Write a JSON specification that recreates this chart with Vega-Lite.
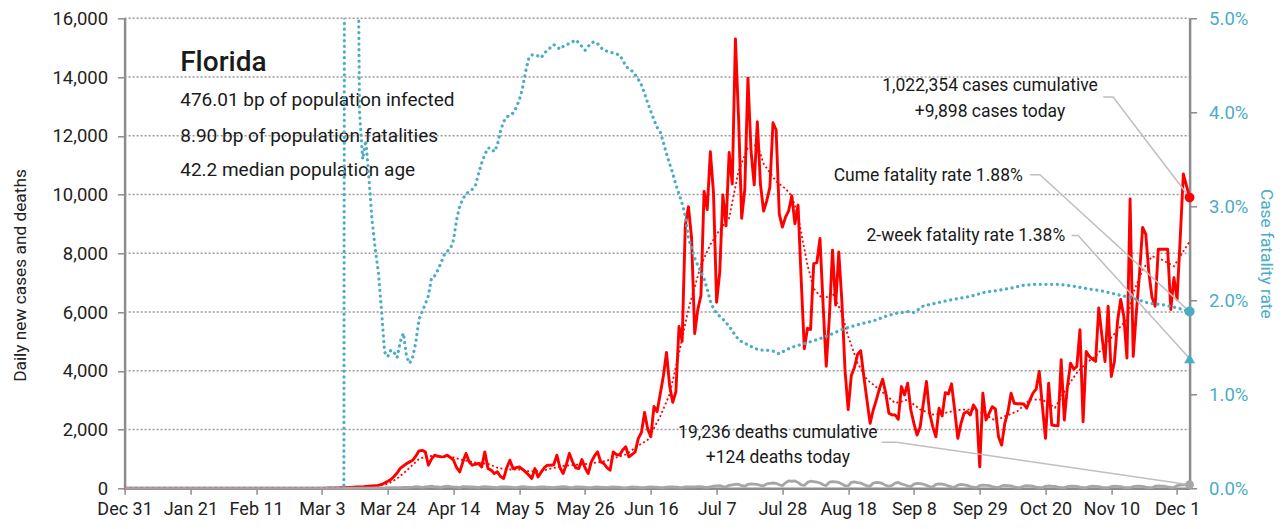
{
"$schema":"https://vega.github.io/schema/vega-lite/v6.json",
"width":1065,"height":470,
"autosize":{"type":"none"},
"padding":{"left":124.6,"top":18.3,"right":92.4,"bottom":40.7},
"background":"#ffffff",
"config":{"font":"Roboto","view":{"stroke":null},
 "axis":{"labelFont":"Roboto","titleFont":"Roboto","domainColor":"#8c8c8c","domainWidth":2.5,"tickColor":"#8c8c8c","tickWidth":1.5,"titleFontWeight":"normal"},
 "axisLeft":{"tickSize":7,"labelFontSize":18.5,"labelColor":"#222222","labelPadding":10,"titleFontSize":17.3,"titleColor":"#222222"},
 "axisRight":{"tickSize":7,"labelFontSize":18.5,"labelColor":"#4bacc6","labelPadding":12,"titleFontSize":17.3,"titleColor":"#4bacc6"},
 "axisBottom":{"tickSize":6,"labelFontSize":18,"labelColor":"#222222","labelPadding":6},
 "text":{"font":"Roboto"}},
"datasets":{
"grid":[
{"g":2000,"t":"2019-12-31"},{"g":2000,"t":"2020-12-05"},{"g":4000,"t":"2019-12-31"},{"g":4000,"t":"2020-12-05"},{"g":6000,"t":"2019-12-31"},{"g":6000,"t":"2020-12-05"},{"g":8000,"t":"2019-12-31"},{"g":8000,"t":"2020-12-05"},
{"g":10000,"t":"2019-12-31"},{"g":10000,"t":"2020-12-05"},{"g":12000,"t":"2019-12-31"},{"g":12000,"t":"2020-12-05"},{"g":14000,"t":"2019-12-31"},{"g":14000,"t":"2020-12-05"},{"g":16000,"t":"2019-12-31"},{"g":16000,"t":"2020-12-05"}
],
"daily":[
{"t":"2019-12-31","c":0,"k":0},{"t":"2020-01-31","c":0,"k":0},{"t":"2020-02-29","c":0,"k":0},
{"t":"2020-03-01","c":2,"k":0},{"t":"2020-03-02","c":3,"k":0},{"t":"2020-03-03","c":5,"k":0},{"t":"2020-03-04","c":5,"k":0},{"t":"2020-03-05","c":8,"k":0},{"t":"2020-03-06","c":10,"k":0},{"t":"2020-03-07","c":12,"k":1},{"t":"2020-03-08","c":15,"k":0},{"t":"2020-03-09","c":18,"k":1},{"t":"2020-03-10","c":20,"k":2},
{"t":"2020-03-11","c":25,"k":1},{"t":"2020-03-12","c":30,"k":2},{"t":"2020-03-13","c":40,"k":3},{"t":"2020-03-14","c":50,"k":2},{"t":"2020-03-15","c":45,"k":3},{"t":"2020-03-16","c":50,"k":5},{"t":"2020-03-17","c":60,"k":5},{"t":"2020-03-18","c":70,"k":8},{"t":"2020-03-19","c":80,"k":7},{"t":"2020-03-20","c":90,"k":10},
{"t":"2020-03-21","c":100,"k":10},{"t":"2020-03-22","c":130,"k":12},{"t":"2020-03-23","c":180,"k":15},{"t":"2020-03-24","c":240,"k":18},{"t":"2020-03-25","c":300,"k":20},{"t":"2020-03-26","c":400,"k":25},{"t":"2020-03-27","c":520,"k":20},{"t":"2020-03-28","c":680,"k":25},{"t":"2020-03-29","c":760,"k":30},{"t":"2020-03-30","c":840,"k":28},{"t":"2020-03-31","c":900,"k":35},
{"t":"2020-04-01","c":957,"k":40},{"t":"2020-04-02","c":1100,"k":55},{"t":"2020-04-03","c":1275,"k":45},{"t":"2020-04-04","c":1290,"k":35},{"t":"2020-04-05","c":1240,"k":50},{"t":"2020-04-06","c":786,"k":60},{"t":"2020-04-07","c":1000,"k":70},{"t":"2020-04-08","c":1128,"k":50},{"t":"2020-04-09","c":1090,"k":45},{"t":"2020-04-10","c":1070,"k":30},
{"t":"2020-04-11","c":1080,"k":60},{"t":"2020-04-12","c":1128,"k":70},{"t":"2020-04-13","c":1050,"k":55},{"t":"2020-04-14","c":957,"k":45},{"t":"2020-04-15","c":700,"k":40},{"t":"2020-04-16","c":557,"k":25},{"t":"2020-04-17","c":900,"k":60},{"t":"2020-04-18","c":1186,"k":55},{"t":"2020-04-19","c":900,"k":45},{"t":"2020-04-20","c":786,"k":50},
{"t":"2020-04-21","c":820,"k":40},{"t":"2020-04-22","c":844,"k":25},{"t":"2020-04-23","c":728,"k":45},{"t":"2020-04-24","c":1241,"k":60},{"t":"2020-04-25","c":673,"k":50},{"t":"2020-04-26","c":620,"k":40},{"t":"2020-04-27","c":502,"k":30},{"t":"2020-04-28","c":560,"k":20},{"t":"2020-04-29","c":400,"k":50},{"t":"2020-04-30","c":332,"k":45},
{"t":"2020-05-01","c":700,"k":50},{"t":"2020-05-02","c":957,"k":40},{"t":"2020-05-03","c":673,"k":30},{"t":"2020-05-04","c":700,"k":25},{"t":"2020-05-05","c":728,"k":40},{"t":"2020-05-06","c":650,"k":55},{"t":"2020-05-07","c":557,"k":45},{"t":"2020-05-08","c":450,"k":35},{"t":"2020-05-09","c":332,"k":30},{"t":"2020-05-10","c":673,"k":20},
{"t":"2020-05-11","c":386,"k":40},{"t":"2020-05-12","c":550,"k":50},{"t":"2020-05-13","c":700,"k":45},{"t":"2020-05-14","c":786,"k":35},{"t":"2020-05-15","c":786,"k":30},{"t":"2020-05-16","c":800,"k":20},{"t":"2020-05-17","c":1128,"k":40},{"t":"2020-05-18","c":700,"k":50},{"t":"2020-05-19","c":502,"k":55},{"t":"2020-05-20","c":800,"k":45},
{"t":"2020-05-21","c":1186,"k":30},{"t":"2020-05-22","c":900,"k":20},{"t":"2020-05-23","c":700,"k":45},{"t":"2020-05-24","c":673,"k":50},{"t":"2020-05-25","c":980,"k":40},{"t":"2020-05-26","c":700,"k":35},{"t":"2020-05-27","c":502,"k":25},{"t":"2020-05-28","c":900,"k":20},{"t":"2020-05-29","c":1100,"k":40},{"t":"2020-05-30","c":1241,"k":45},{"t":"2020-05-31","c":900,"k":35},
{"t":"2020-06-01","c":844,"k":30},{"t":"2020-06-02","c":700,"k":25},{"t":"2020-06-03","c":615,"k":40},{"t":"2020-06-04","c":1241,"k":45},{"t":"2020-06-05","c":1150,"k":40},{"t":"2020-06-06","c":1128,"k":35},{"t":"2020-06-07","c":1300,"k":20},{"t":"2020-06-08","c":1412,"k":15},{"t":"2020-06-09","c":1070,"k":35},{"t":"2020-06-10","c":1150,"k":45},
{"t":"2020-06-11","c":1241,"k":40},{"t":"2020-06-12","c":1700,"k":35},{"t":"2020-06-13","c":1900,"k":25},{"t":"2020-06-14","c":2581,"k":20},{"t":"2020-06-15","c":2016,"k":40},{"t":"2020-06-16","c":1758,"k":45},{"t":"2020-06-17","c":2783,"k":40},{"t":"2020-06-18","c":2610,"k":35},{"t":"2020-06-19","c":3207,"k":25},{"t":"2020-06-20","c":3822,"k":20},
{"t":"2020-06-21","c":4626,"k":40},{"t":"2020-06-22","c":3494,"k":45},{"t":"2020-06-23","c":2926,"k":45},{"t":"2020-06-24","c":3289,"k":40},{"t":"2020-06-25","c":5508,"k":30},{"t":"2020-06-26","c":5004,"k":25},{"t":"2020-06-27","c":8942,"k":45},{"t":"2020-06-28","c":9585,"k":50},{"t":"2020-06-29","c":8530,"k":50},{"t":"2020-06-30","c":5266,"k":45},
{"t":"2020-07-01","c":6093,"k":60},{"t":"2020-07-02","c":6563,"k":55},{"t":"2020-07-03","c":10109,"k":40},{"t":"2020-07-04","c":9488,"k":30},{"t":"2020-07-05","c":11458,"k":50},{"t":"2020-07-06","c":10059,"k":70},{"t":"2020-07-07","c":6336,"k":80},{"t":"2020-07-08","c":7361,"k":90},{"t":"2020-07-09","c":9989,"k":60},{"t":"2020-07-10","c":8935,"k":50},
{"t":"2020-07-11","c":11433,"k":100},{"t":"2020-07-12","c":10360,"k":120},{"t":"2020-07-13","c":15300,"k":130},{"t":"2020-07-14","c":12624,"k":140},{"t":"2020-07-15","c":9194,"k":90},{"t":"2020-07-16","c":10181,"k":70},{"t":"2020-07-17","c":13965,"k":130},{"t":"2020-07-18","c":11466,"k":150},{"t":"2020-07-19","c":10328,"k":140},{"t":"2020-07-20","c":12478,"k":130},
{"t":"2020-07-21","c":10347,"k":100},{"t":"2020-07-22","c":9440,"k":80},{"t":"2020-07-23","c":9785,"k":150},{"t":"2020-07-24","c":10249,"k":170},{"t":"2020-07-25","c":12444,"k":180},{"t":"2020-07-26","c":12199,"k":170},{"t":"2020-07-27","c":9344,"k":120},{"t":"2020-07-28","c":8892,"k":90},{"t":"2020-07-29","c":9230,"k":190},{"t":"2020-07-30","c":9446,"k":250},{"t":"2020-07-31","c":9956,"k":240},
{"t":"2020-08-01","c":9007,"k":250},{"t":"2020-08-02","c":9642,"k":200},{"t":"2020-08-03","c":7104,"k":120},{"t":"2020-08-04","c":4752,"k":100},{"t":"2020-08-05","c":5446,"k":200},{"t":"2020-08-06","c":5409,"k":240},{"t":"2020-08-07","c":7650,"k":230},{"t":"2020-08-08","c":7686,"k":210},{"t":"2020-08-09","c":8502,"k":180},{"t":"2020-08-10","c":6229,"k":120},
{"t":"2020-08-11","c":4155,"k":90},{"t":"2020-08-12","c":5831,"k":210},{"t":"2020-08-13","c":8109,"k":230},{"t":"2020-08-14","c":6236,"k":220},{"t":"2020-08-15","c":8042,"k":200},{"t":"2020-08-16","c":6352,"k":150},{"t":"2020-08-17","c":4011,"k":90},{"t":"2020-08-18","c":2678,"k":80},{"t":"2020-08-19","c":3838,"k":200},{"t":"2020-08-20","c":4115,"k":220},
{"t":"2020-08-21","c":4555,"k":190},{"t":"2020-08-22","c":4684,"k":180},{"t":"2020-08-23","c":3805,"k":130},{"t":"2020-08-24","c":3000,"k":80},{"t":"2020-08-25","c":2212,"k":70},{"t":"2020-08-26","c":2667,"k":180},{"t":"2020-08-27","c":3009,"k":200},{"t":"2020-08-28","c":3400,"k":190},{"t":"2020-08-29","c":3716,"k":160},{"t":"2020-08-30","c":3238,"k":100},{"t":"2020-08-31","c":2554,"k":70},
{"t":"2020-09-01","c":2500,"k":100},{"t":"2020-09-02","c":2496,"k":180},{"t":"2020-09-03","c":2349,"k":200},{"t":"2020-09-04","c":3463,"k":150},{"t":"2020-09-05","c":3180,"k":120},{"t":"2020-09-06","c":3580,"k":80},{"t":"2020-09-07","c":2667,"k":60},{"t":"2020-09-08","c":2200,"k":140},{"t":"2020-09-09","c":1812,"k":170},{"t":"2020-09-10","c":2096,"k":160},
{"t":"2020-09-11","c":2900,"k":140},{"t":"2020-09-12","c":3634,"k":100},{"t":"2020-09-13","c":2554,"k":60},{"t":"2020-09-14","c":2100,"k":50},{"t":"2020-09-15","c":1754,"k":130},{"t":"2020-09-16","c":2725,"k":150},{"t":"2020-09-17","c":2462,"k":140},{"t":"2020-09-18","c":3258,"k":120},{"t":"2020-09-19","c":3214,"k":80},{"t":"2020-09-20","c":3556,"k":50},
{"t":"2020-09-21","c":2667,"k":40},{"t":"2020-09-22","c":1700,"k":110},{"t":"2020-09-23","c":2200,"k":130},{"t":"2020-09-24","c":2554,"k":120},{"t":"2020-09-25","c":2610,"k":100},{"t":"2020-09-26","c":2496,"k":60},{"t":"2020-09-27","c":2838,"k":40},{"t":"2020-09-28","c":2667,"k":30},{"t":"2020-09-29","c":728,"k":90},{"t":"2020-09-30","c":3238,"k":110},
{"t":"2020-10-01","c":2325,"k":100},{"t":"2020-10-02","c":2554,"k":90},{"t":"2020-10-03","c":2780,"k":60},{"t":"2020-10-04","c":2700,"k":40},{"t":"2020-10-05","c":1754,"k":30},{"t":"2020-10-06","c":1470,"k":80},{"t":"2020-10-07","c":2212,"k":100},{"t":"2020-10-08","c":2600,"k":90},{"t":"2020-10-09","c":3238,"k":80},{"t":"2020-10-10","c":2896,"k":50},
{"t":"2020-10-11","c":2880,"k":30},{"t":"2020-10-12","c":2880,"k":25},{"t":"2020-10-13","c":2872,"k":70},{"t":"2020-10-14","c":2725,"k":90},{"t":"2020-10-15","c":3000,"k":80},{"t":"2020-10-16","c":3238,"k":70},{"t":"2020-10-17","c":3375,"k":40},{"t":"2020-10-18","c":3976,"k":30},{"t":"2020-10-19","c":2800,"k":25},{"t":"2020-10-20","c":1700,"k":65},
{"t":"2020-10-21","c":3580,"k":80},{"t":"2020-10-22","c":2154,"k":70},{"t":"2020-10-23","c":2140,"k":65},{"t":"2020-10-24","c":2130,"k":40},{"t":"2020-10-25","c":4376,"k":25},{"t":"2020-10-26","c":2325,"k":20},{"t":"2020-10-27","c":3463,"k":60},{"t":"2020-10-28","c":4261,"k":75},{"t":"2020-10-29","c":4056,"k":70},{"t":"2020-10-30","c":4147,"k":65},{"t":"2020-10-31","c":5402,"k":40},
{"t":"2020-11-01","c":2268,"k":25},{"t":"2020-11-02","c":4660,"k":20},{"t":"2020-11-03","c":4490,"k":55},{"t":"2020-11-04","c":4400,"k":70},{"t":"2020-11-05","c":4318,"k":65},{"t":"2020-11-06","c":6142,"k":60},{"t":"2020-11-07","c":5200,"k":35},{"t":"2020-11-08","c":4318,"k":20},{"t":"2020-11-09","c":6199,"k":20},{"t":"2020-11-10","c":3805,"k":55},
{"t":"2020-11-11","c":4318,"k":70},{"t":"2020-11-12","c":5686,"k":65},{"t":"2020-11-13","c":6428,"k":60},{"t":"2020-11-14","c":5857,"k":35},{"t":"2020-11-15","c":4434,"k":25},{"t":"2020-11-16","c":9847,"k":20},{"t":"2020-11-17","c":4490,"k":60},{"t":"2020-11-18","c":6000,"k":75},{"t":"2020-11-19","c":7283,"k":70},{"t":"2020-11-20","c":8879,"k":65},
{"t":"2020-11-21","c":8650,"k":40},{"t":"2020-11-22","c":7340,"k":25},{"t":"2020-11-23","c":6500,"k":20},{"t":"2020-11-24","c":6199,"k":70},{"t":"2020-11-25","c":8137,"k":80},{"t":"2020-11-26","c":8137,"k":75},{"t":"2020-11-27","c":8137,"k":70},{"t":"2020-11-28","c":8137,"k":45},{"t":"2020-11-29","c":6086,"k":30},{"t":"2020-11-30","c":7170,"k":25},
{"t":"2020-12-01","c":6428,"k":90},{"t":"2020-12-02","c":8500,"k":110},{"t":"2020-12-03","c":10700,"k":120},{"t":"2020-12-04","c":10300,"k":115},{"t":"2020-12-05","c":9898,"k":124}
],
"avg":[
{"t":"2019-12-31","a":0},{"t":"2020-03-01","a":0},{"t":"2020-03-10","a":5},{"t":"2020-03-15","a":30},{"t":"2020-03-20","a":70},{"t":"2020-03-24","a":150},{"t":"2020-03-27","a":330},{"t":"2020-03-30","a":600},{"t":"2020-04-01","a":800},{"t":"2020-04-03","a":1000},{"t":"2020-04-06","a":1100},{"t":"2020-04-10","a":1090},{"t":"2020-04-14","a":1050},{"t":"2020-04-17","a":960},{"t":"2020-04-21","a":880},{"t":"2020-04-25","a":830},{"t":"2020-04-28","a":700},
{"t":"2020-05-01","a":640},{"t":"2020-05-05","a":640},{"t":"2020-05-08","a":580},{"t":"2020-05-12","a":590},{"t":"2020-05-15","a":670},{"t":"2020-05-19","a":760},{"t":"2020-05-23","a":800},{"t":"2020-05-26","a":820},{"t":"2020-05-30","a":880},{"t":"2020-06-02","a":940},{"t":"2020-06-05","a":1050},{"t":"2020-06-08","a":1150},{"t":"2020-06-12","a":1450},{"t":"2020-06-15","a":1650},{"t":"2020-06-19","a":2450},{"t":"2020-06-22","a":3200},{"t":"2020-06-25","a":4600},{"t":"2020-06-28","a":6100},
{"t":"2020-07-02","a":7600},{"t":"2020-07-05","a":8300},{"t":"2020-07-08","a":8800},{"t":"2020-07-11","a":9200},{"t":"2020-07-14","a":10800},{"t":"2020-07-17","a":11600},{"t":"2020-07-20","a":11700},{"t":"2020-07-22","a":11050},{"t":"2020-07-26","a":10450},{"t":"2020-07-29","a":10200},{"t":"2020-07-31","a":9950},{"t":"2020-08-02","a":9260},{"t":"2020-08-05","a":7600},{"t":"2020-08-07","a":6800},{"t":"2020-08-10","a":6420},{"t":"2020-08-13","a":6650},{"t":"2020-08-16","a":5950},{"t":"2020-08-18","a":5170},{"t":"2020-08-21","a":4270},{"t":"2020-08-24","a":3700},{"t":"2020-08-28","a":3360},
{"t":"2020-09-02","a":2900},{"t":"2020-09-06","a":3020},{"t":"2020-09-10","a":2680},{"t":"2020-09-14","a":2510},{"t":"2020-09-18","a":2570},{"t":"2020-09-23","a":2680},{"t":"2020-09-27","a":2680},{"t":"2020-10-01","a":2500},{"t":"2020-10-04","a":2300},{"t":"2020-10-07","a":2450},{"t":"2020-10-11","a":2620},{"t":"2020-10-15","a":3020},{"t":"2020-10-19","a":3020},{"t":"2020-10-23","a":2740},{"t":"2020-10-27","a":3470},{"t":"2020-10-30","a":3930},
{"t":"2020-11-02","a":4270},{"t":"2020-11-05","a":4490},{"t":"2020-11-09","a":5000},{"t":"2020-11-13","a":5515},{"t":"2020-11-15","a":5740},{"t":"2020-11-17","a":6650},{"t":"2020-11-20","a":7440},{"t":"2020-11-23","a":7900},{"t":"2020-11-26","a":7790},{"t":"2020-11-30","a":7560},{"t":"2020-12-02","a":7900},{"t":"2020-12-05","a":8400}
],
"cfr":[
{"t":"2019-12-31","v":0},{"t":"2020-02-04","v":0},{"t":"2020-03-10","v":0},{"t":"2020-03-11","v":0.3},{"t":"2020-03-12","v":0.25},{"t":"2020-03-13","v":0.15},{"t":"2020-03-14","v":0.08},
{"t":"2020-03-15","v":0.04},{"t":"2020-03-16","v":0.035},{"t":"2020-03-17","v":0.037},{"t":"2020-03-18","v":0.033},{"t":"2020-03-19","v":0.0285},{"t":"2020-03-20","v":0.0255},{"t":"2020-03-21","v":0.023},{"t":"2020-03-22","v":0.019},{"t":"2020-03-23","v":0.0145},{"t":"2020-03-24","v":0.014},{"t":"2020-03-25","v":0.0147},{"t":"2020-03-26","v":0.0145},{"t":"2020-03-27","v":0.0139},{"t":"2020-03-28","v":0.0156},{"t":"2020-03-29","v":0.0165},{"t":"2020-03-30","v":0.014},{"t":"2020-03-31","v":0.0133},
{"t":"2020-04-01","v":0.014},{"t":"2020-04-02","v":0.0156},{"t":"2020-04-03","v":0.018},{"t":"2020-04-04","v":0.0188},{"t":"2020-04-05","v":0.0196},{"t":"2020-04-06","v":0.0205},{"t":"2020-04-07","v":0.0224},{"t":"2020-04-08","v":0.0226},{"t":"2020-04-09","v":0.0232},{"t":"2020-04-10","v":0.024},{"t":"2020-04-11","v":0.0248},{"t":"2020-04-12","v":0.0252},{"t":"2020-04-13","v":0.0255},{"t":"2020-04-14","v":0.0264},{"t":"2020-04-15","v":0.0286},{"t":"2020-04-16","v":0.03},{"t":"2020-04-17","v":0.0308},{"t":"2020-04-18","v":0.0313},{"t":"2020-04-19","v":0.0316},{"t":"2020-04-20","v":0.0318},{"t":"2020-04-21","v":0.0322},{"t":"2020-04-22","v":0.0335},{"t":"2020-04-23","v":0.0346},{"t":"2020-04-24","v":0.0355},{"t":"2020-04-25","v":0.0362},{"t":"2020-04-26","v":0.0362},{"t":"2020-04-27","v":0.0358},{"t":"2020-04-28","v":0.0365},{"t":"2020-04-29","v":0.038},{"t":"2020-04-30","v":0.039},
{"t":"2020-05-01","v":0.0395},{"t":"2020-05-02","v":0.0397},{"t":"2020-05-03","v":0.0399},{"t":"2020-05-04","v":0.0405},{"t":"2020-05-05","v":0.0413},{"t":"2020-05-06","v":0.0425},{"t":"2020-05-07","v":0.0443},{"t":"2020-05-08","v":0.0457},{"t":"2020-05-09","v":0.0461},{"t":"2020-05-10","v":0.0461},{"t":"2020-05-11","v":0.046},{"t":"2020-05-12","v":0.0458},{"t":"2020-05-13","v":0.0463},{"t":"2020-05-14","v":0.0466},{"t":"2020-05-15","v":0.0469},{"t":"2020-05-16","v":0.0472},{"t":"2020-05-17","v":0.047},{"t":"2020-05-18","v":0.0467},{"t":"2020-05-19","v":0.047},{"t":"2020-05-20","v":0.0472},{"t":"2020-05-21","v":0.0473},{"t":"2020-05-22","v":0.0475},{"t":"2020-05-23","v":0.0477},{"t":"2020-05-24","v":0.0474},{"t":"2020-05-25","v":0.047},{"t":"2020-05-26","v":0.0466},{"t":"2020-05-27","v":0.047},{"t":"2020-05-28","v":0.0474},{"t":"2020-05-29","v":0.0475},{"t":"2020-05-30","v":0.0473},{"t":"2020-05-31","v":0.0469},
{"t":"2020-06-01","v":0.0466},{"t":"2020-06-02","v":0.0465},{"t":"2020-06-03","v":0.0464},{"t":"2020-06-04","v":0.0463},{"t":"2020-06-05","v":0.0462},{"t":"2020-06-06","v":0.0461},{"t":"2020-06-07","v":0.0456},{"t":"2020-06-08","v":0.0449},{"t":"2020-06-09","v":0.0446},{"t":"2020-06-10","v":0.0444},{"t":"2020-06-11","v":0.044},{"t":"2020-06-12","v":0.0435},{"t":"2020-06-13","v":0.0429},{"t":"2020-06-14","v":0.042},{"t":"2020-06-15","v":0.041},{"t":"2020-06-16","v":0.0401},{"t":"2020-06-17","v":0.0392},{"t":"2020-06-18","v":0.0384},{"t":"2020-06-19","v":0.0379},{"t":"2020-06-20","v":0.0368},{"t":"2020-06-21","v":0.0356},{"t":"2020-06-22","v":0.0345},{"t":"2020-06-23","v":0.0335},{"t":"2020-06-24","v":0.0323},{"t":"2020-06-25","v":0.0313},{"t":"2020-06-26","v":0.0303},{"t":"2020-06-27","v":0.029},{"t":"2020-06-28","v":0.0266},{"t":"2020-06-29","v":0.0256},{"t":"2020-06-30","v":0.0245},
{"t":"2020-07-01","v":0.0237},{"t":"2020-07-02","v":0.023},{"t":"2020-07-03","v":0.0223},{"t":"2020-07-04","v":0.0212},{"t":"2020-07-05","v":0.0199},{"t":"2020-07-06","v":0.0191},{"t":"2020-07-07","v":0.0186},{"t":"2020-07-08","v":0.0183},{"t":"2020-07-09","v":0.018},{"t":"2020-07-10","v":0.0176},{"t":"2020-07-11","v":0.0173},{"t":"2020-07-12","v":0.0167},{"t":"2020-07-13","v":0.0163},{"t":"2020-07-14","v":0.0158},{"t":"2020-07-15","v":0.0156},{"t":"2020-07-16","v":0.0154},{"t":"2020-07-17","v":0.0153},{"t":"2020-07-18","v":0.0151},{"t":"2020-07-19","v":0.0149},{"t":"2020-07-20","v":0.0148},{"t":"2020-07-21","v":0.0147},
{"t":"2020-07-23","v":0.0147},{"t":"2020-07-25","v":0.0146},{"t":"2020-07-27","v":0.0143},{"t":"2020-07-29","v":0.0147},{"t":"2020-07-31","v":0.015},{"t":"2020-08-02","v":0.0152},{"t":"2020-08-05","v":0.0155},{"t":"2020-08-08","v":0.0158},{"t":"2020-08-12","v":0.0163},{"t":"2020-08-16","v":0.0169},{"t":"2020-08-19","v":0.0172},{"t":"2020-08-22","v":0.0175},{"t":"2020-08-26","v":0.0178},{"t":"2020-08-30","v":0.0183},
{"t":"2020-09-02","v":0.0186},{"t":"2020-09-06","v":0.0188},{"t":"2020-09-08","v":0.0187},{"t":"2020-09-11","v":0.0194},{"t":"2020-09-15","v":0.0197},{"t":"2020-09-19","v":0.02},{"t":"2020-09-24","v":0.0203},{"t":"2020-09-27","v":0.0205},{"t":"2020-10-01","v":0.0209},{"t":"2020-10-04","v":0.021},{"t":"2020-10-09","v":0.0213},{"t":"2020-10-13","v":0.0216},{"t":"2020-10-17","v":0.0217},{"t":"2020-10-24","v":0.0217},{"t":"2020-10-29","v":0.0215},
{"t":"2020-11-03","v":0.0212},{"t":"2020-11-07","v":0.021},{"t":"2020-11-12","v":0.0206},{"t":"2020-11-16","v":0.0203},{"t":"2020-11-22","v":0.0197},{"t":"2020-11-27","v":0.0195},{"t":"2020-12-01","v":0.0192},{"t":"2020-12-05","v":0.0188}
],
"last":[{"t":"2020-12-05","c":9898,"k":124,"cume":0.0188,"two":0.0138}],
"links":[
{"id":"a","o":0,"t":"2020-11-07T10:00:00Z","y":13323},{"id":"a","o":1,"t":"2020-11-10T14:00:00Z","y":13323},{"id":"a","o":2,"t":"2020-12-05T00:00:00Z","y":9898},
{"id":"b","o":0,"t":"2020-10-15T00:00:00Z","y":10678},{"id":"b","o":1,"t":"2020-10-18T05:00:00Z","y":10678},{"id":"b","o":2,"t":"2020-12-05T00:00:00Z","y":6016},
{"id":"c","o":0,"t":"2020-10-28T07:00:00Z","y":8602},{"id":"c","o":1,"t":"2020-10-30T10:00:00Z","y":8602},{"id":"c","o":2,"t":"2020-12-05T00:00:00Z","y":4416},
{"id":"d","o":0,"t":"2020-08-28T16:00:00Z","y":1566},{"id":"d","o":1,"t":"2020-09-02T10:00:00Z","y":1566},{"id":"d","o":2,"t":"2020-12-05T00:00:00Z","y":124}
],
"head":[{"t":"2020-01-17T18:00:00Z","y":14218,"txt":"Florida"}],
"info":[
{"t":"2020-01-17T18:00:00Z","y":13003,"txt":"476.01 bp of population infected"},
{"t":"2020-01-17T18:00:00Z","y":11778,"txt":"8.90 bp of population fatalities"},
{"t":"2020-01-17T18:00:00Z","y":10620,"txt":"42.2 median population age"}
],
"annc":[
{"t":"2020-10-02T07:00:00Z","y":13684,"txt":"1,022,354 cases cumulative"},
{"t":"2020-10-02T07:00:00Z","y":12799,"txt":"+9,898 cases today"},
{"t":"2020-07-26T13:00:00Z","y":1886,"txt":"19,236 deaths cumulative"},
{"t":"2020-07-26T13:00:00Z","y":1035,"txt":"+124 deaths today"}
],
"annr":[
{"t":"2020-10-12T18:00:00Z","y":10620,"txt":"Cume fatality rate 1.88%"},
{"t":"2020-10-26T07:00:00Z","y":8578,"txt":"2-week fatality rate 1.38%"}
]
},
"encoding":{"x":{"field":"t","type":"temporal",
 "scale":{"type":"utc","nice":false,"domain":[{"year":2019,"month":12,"date":31,"utc":true},{"year":2020,"month":12,"date":5,"utc":true}]},
 "axis":{"values":[
  {"year":2019,"month":12,"date":31,"utc":true},{"year":2020,"month":1,"date":21,"utc":true},{"year":2020,"month":2,"date":11,"utc":true},{"year":2020,"month":3,"date":3,"utc":true},{"year":2020,"month":3,"date":24,"utc":true},{"year":2020,"month":4,"date":14,"utc":true},{"year":2020,"month":5,"date":5,"utc":true},{"year":2020,"month":5,"date":26,"utc":true},{"year":2020,"month":6,"date":16,"utc":true},{"year":2020,"month":7,"date":7,"utc":true},{"year":2020,"month":7,"date":28,"utc":true},{"year":2020,"month":8,"date":18,"utc":true},{"year":2020,"month":9,"date":8,"utc":true},{"year":2020,"month":9,"date":29,"utc":true},{"year":2020,"month":10,"date":20,"utc":true},{"year":2020,"month":11,"date":10,"utc":true},{"year":2020,"month":12,"date":1,"utc":true}],
  "labelExpr":"utcFormat(datum.value, '%b %-d')","title":null,"grid":false,"labelOverlap":false,"labelFlush":false}}},
"layer":[
 {"layer":[
  {"data":{"name":"grid"},"mark":{"type":"line","color":"#999999","strokeWidth":1.5,"strokeDash":[2,2]},
   "encoding":{"detail":{"field":"g","type":"nominal"},"y":{"field":"g","type":"quantitative","scale":{"domain":[0,16000],"nice":false},
    "axis":{"title":"Daily new cases and deaths","values":[0,2000,4000,6000,8000,10000,12000,14000,16000],"labelExpr":"format(datum.value, ',')","grid":false,"titleX":-104.6,"titleY":256.7,"titleAngle":270,"titleAlign":"center","titleBaseline":"middle"}}}},
  {"data":{"name":"daily"},"mark":{"type":"line","color":"#ff0000","strokeWidth":2.9,"strokeJoin":"round"},
   "encoding":{"y":{"field":"c","type":"quantitative","scale":{"domain":[0,16000],"nice":false},
    "axis":{"title":"Daily new cases and deaths","values":[0,2000,4000,6000,8000,10000,12000,14000,16000],"labelExpr":"format(datum.value, ',')","grid":false,"titleX":-104.6,"titleY":256.7,"titleAngle":270,"titleAlign":"center","titleBaseline":"middle"}}}},
  {"data":{"name":"avg"},"mark":{"type":"line","color":"#ff0000","strokeWidth":1.8,"strokeDash":[2,2.5]},
   "encoding":{"y":{"field":"a","type":"quantitative","scale":{"domain":[0,16000],"nice":false},
    "axis":{"title":"Daily new cases and deaths","values":[0,2000,4000,6000,8000,10000,12000,14000,16000],"labelExpr":"format(datum.value, ',')","grid":false,"titleX":-104.6,"titleY":256.7,"titleAngle":270,"titleAlign":"center","titleBaseline":"middle"}}}},
  {"data":{"name":"daily"},"mark":{"type":"line","color":"#a6a6a6","strokeWidth":2.8,"strokeJoin":"round"},
   "encoding":{"y":{"field":"k","type":"quantitative","scale":{"domain":[0,16000],"nice":false},
    "axis":{"title":"Daily new cases and deaths","values":[0,2000,4000,6000,8000,10000,12000,14000,16000],"labelExpr":"format(datum.value, ',')","grid":false,"titleX":-104.6,"titleY":256.7,"titleAngle":270,"titleAlign":"center","titleBaseline":"middle"}}}},
  {"data":{"name":"links"},"mark":{"type":"line","color":"#bfbfbf","strokeWidth":1.5},
   "encoding":{"y":{"field":"y","type":"quantitative","scale":{"domain":[0,16000],"nice":false},
    "axis":{"title":"Daily new cases and deaths","values":[0,2000,4000,6000,8000,10000,12000,14000,16000],"labelExpr":"format(datum.value, ',')","grid":false,"titleX":-104.6,"titleY":256.7,"titleAngle":270,"titleAlign":"center","titleBaseline":"middle"}},"detail":{"field":"id","type":"nominal"},"order":{"field":"o","type":"quantitative"}}},
  {"data":{"name":"last"},"mark":{"type":"point","shape":"circle","filled":true,"color":"#ff0000","opacity":1,"size":95},
   "encoding":{"y":{"field":"c","type":"quantitative","scale":{"domain":[0,16000],"nice":false},
    "axis":{"title":"Daily new cases and deaths","values":[0,2000,4000,6000,8000,10000,12000,14000,16000],"labelExpr":"format(datum.value, ',')","grid":false,"titleX":-104.6,"titleY":256.7,"titleAngle":270,"titleAlign":"center","titleBaseline":"middle"}}}},
  {"data":{"name":"last"},"mark":{"type":"point","shape":"circle","filled":true,"color":"#a6a6a6","opacity":1,"size":75},
   "encoding":{"y":{"field":"k","type":"quantitative","scale":{"domain":[0,16000],"nice":false},
    "axis":{"title":"Daily new cases and deaths","values":[0,2000,4000,6000,8000,10000,12000,14000,16000],"labelExpr":"format(datum.value, ',')","grid":false,"titleX":-104.6,"titleY":256.7,"titleAngle":270,"titleAlign":"center","titleBaseline":"middle"}}}},
  {"data":{"name":"head"},"mark":{"type":"text","align":"left","baseline":"alphabetic","fontSize":28,"fontWeight":500,"color":"#1a1a1a"},
   "encoding":{"y":{"field":"y","type":"quantitative","scale":{"domain":[0,16000],"nice":false},
    "axis":{"title":"Daily new cases and deaths","values":[0,2000,4000,6000,8000,10000,12000,14000,16000],"labelExpr":"format(datum.value, ',')","grid":false,"titleX":-104.6,"titleY":256.7,"titleAngle":270,"titleAlign":"center","titleBaseline":"middle"}},"text":{"field":"txt","type":"nominal"}}},
  {"data":{"name":"info"},"mark":{"type":"text","align":"left","baseline":"alphabetic","fontSize":19,"color":"#1a1a1a"},
   "encoding":{"y":{"field":"y","type":"quantitative","scale":{"domain":[0,16000],"nice":false},
    "axis":{"title":"Daily new cases and deaths","values":[0,2000,4000,6000,8000,10000,12000,14000,16000],"labelExpr":"format(datum.value, ',')","grid":false,"titleX":-104.6,"titleY":256.7,"titleAngle":270,"titleAlign":"center","titleBaseline":"middle"}},"text":{"field":"txt","type":"nominal"}}},
  {"data":{"name":"annc"},"mark":{"type":"text","align":"center","baseline":"middle","fontSize":17.5,"color":"#1a1a1a"},
   "encoding":{"y":{"field":"y","type":"quantitative","scale":{"domain":[0,16000],"nice":false},
    "axis":{"title":"Daily new cases and deaths","values":[0,2000,4000,6000,8000,10000,12000,14000,16000],"labelExpr":"format(datum.value, ',')","grid":false,"titleX":-104.6,"titleY":256.7,"titleAngle":270,"titleAlign":"center","titleBaseline":"middle"}},"text":{"field":"txt","type":"nominal"}}},
  {"data":{"name":"annr"},"mark":{"type":"text","align":"right","baseline":"middle","fontSize":17.5,"color":"#1a1a1a"},
   "encoding":{"y":{"field":"y","type":"quantitative","scale":{"domain":[0,16000],"nice":false},
    "axis":{"title":"Daily new cases and deaths","values":[0,2000,4000,6000,8000,10000,12000,14000,16000],"labelExpr":"format(datum.value, ',')","grid":false,"titleX":-104.6,"titleY":256.7,"titleAngle":270,"titleAlign":"center","titleBaseline":"middle"}},"text":{"field":"txt","type":"nominal"}}}
 ]},
 {"layer":[
  {"data":{"name":"cfr"},"mark":{"type":"line","color":"#4bacc6","strokeWidth":3.2,"strokeDash":[0.1,5.6],"strokeCap":"round","clip":true},
   "encoding":{"y":{"field":"v","type":"quantitative","scale":{"domain":[0,0.05],"nice":false},
    "axis":{"orient":"right","title":"Case fatality rate","values":[0,0.01,0.02,0.03,0.04,0.05],"labelExpr":"format(datum.value, '.1%')","grid":false,"titleX":75.4,"titleY":235,"titleAngle":90,"titleAlign":"center","titleBaseline":"middle"}}}},
  {"data":{"name":"last"},"mark":{"type":"point","shape":"circle","filled":true,"color":"#4bacc6","opacity":1,"size":100},
   "encoding":{"y":{"field":"cume","type":"quantitative","scale":{"domain":[0,0.05],"nice":false},
    "axis":{"orient":"right","title":"Case fatality rate","values":[0,0.01,0.02,0.03,0.04,0.05],"labelExpr":"format(datum.value, '.1%')","grid":false,"titleX":75.4,"titleY":235,"titleAngle":90,"titleAlign":"center","titleBaseline":"middle"}}}},
  {"data":{"name":"last"},"mark":{"type":"point","shape":"triangle-up","filled":true,"color":"#4bacc6","opacity":1,"size":120},
   "encoding":{"y":{"field":"two","type":"quantitative","scale":{"domain":[0,0.05],"nice":false},
    "axis":{"orient":"right","title":"Case fatality rate","values":[0,0.01,0.02,0.03,0.04,0.05],"labelExpr":"format(datum.value, '.1%')","grid":false,"titleX":75.4,"titleY":235,"titleAngle":90,"titleAlign":"center","titleBaseline":"middle"}}}}
 ]}
],
"resolve":{"scale":{"y":"independent"}}
}
